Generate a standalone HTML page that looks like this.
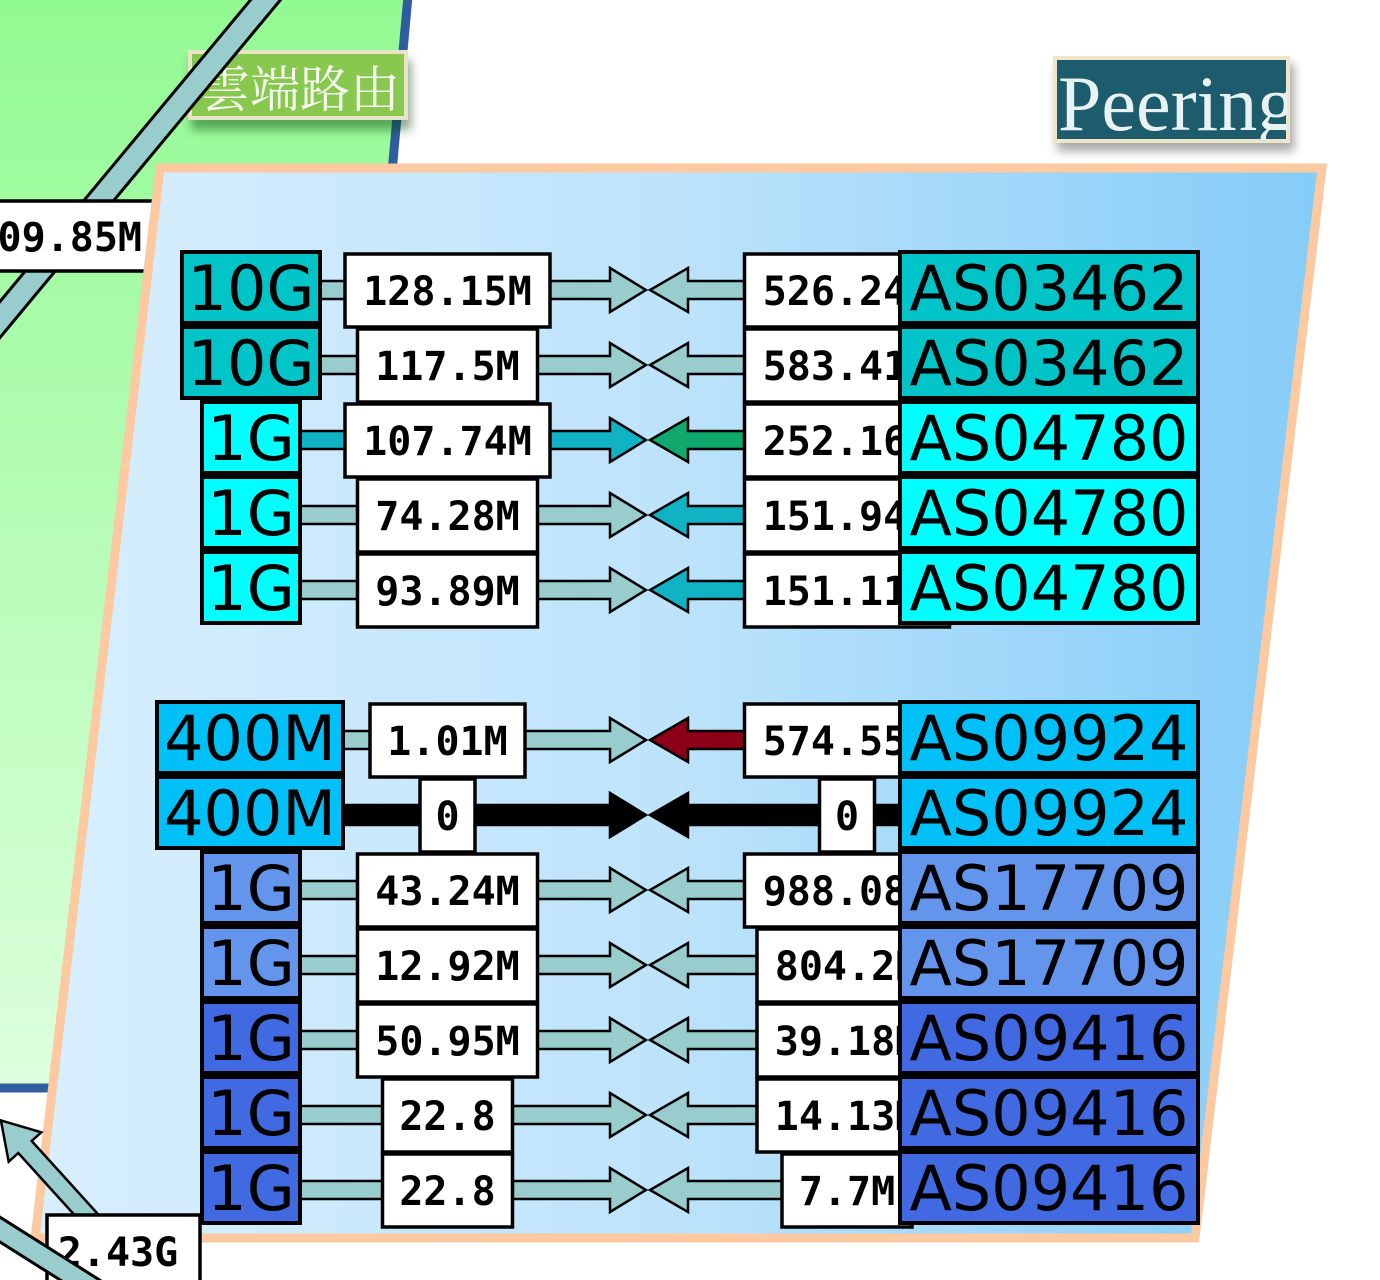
<!DOCTYPE html>
<html>
<head>
<meta charset="utf-8">
<style>
  html,body{margin:0;padding:0;background:#ffffff;}
  body{width:1380px;height:1280px;overflow:hidden;}
  svg{display:block;}
  .lbl{font-family:"DejaVu Sans Mono","Liberation Mono",monospace;font-weight:bold;font-size:40px;fill:#000;}
  .nd{font-family:"DejaVu Sans","Liberation Sans",sans-serif;font-size:62px;fill:#000;}
</style>
</head>
<body>
<svg width="1380" height="1280" viewBox="0 0 1380 1280" xmlns="http://www.w3.org/2000/svg">
  <defs>
    <linearGradient id="gGreen" x1="0" y1="0" x2="0" y2="1">
      <stop offset="0" stop-color="#92fa92"/>
      <stop offset="1" stop-color="#ddffdd"/>
    </linearGradient>
    <linearGradient id="gPanel" x1="0" y1="0" x2="1" y2="0">
      <stop offset="0" stop-color="#d8effd"/>
      <stop offset="0.5" stop-color="#bde3fb"/>
      <stop offset="1" stop-color="#84ccf8"/>
    </linearGradient>
    <filter id="shGrey" x="-20%" y="-30%" width="150%" height="180%">
      <feDropShadow dx="4" dy="8" stdDeviation="5" flood-color="#000" flood-opacity="0.35"/>
    </filter>
    <filter id="shGreen" x="-20%" y="-30%" width="150%" height="180%">
      <feDropShadow dx="3" dy="10" stdDeviation="5" flood-color="#004000" flood-opacity="0.45"/>
    </filter>
    <clipPath id="cpPeer"><rect x="1056" y="59" width="231" height="81"/></clipPath>
    <clipPath id="cpCloud"><rect x="190" y="52" width="216" height="66"/></clipPath>
  </defs>

  <!-- green area -->
  <polygon points="0,0 407,0 300,1088 0,1088" fill="url(#gGreen)"/>
  <line x1="408" y1="-4" x2="392" y2="172" stroke="#2e5c9e" stroke-width="9"/>
  <line x1="0" y1="1088" x2="70" y2="1088" stroke="#2f5fa0" stroke-width="9"/>

  <!-- cloud routing label -->
  <g filter="url(#shGreen)">
    <rect x="190" y="52" width="216" height="66" fill="#88c850" stroke="#e8e4c6" stroke-width="4"/>
  </g>
  <text x="200" y="107" clip-path="url(#cpCloud)" font-family="'Noto Serif CJK SC','Noto Sans CJK SC',serif" font-size="50" fill="#f6faf0">雲端路由</text>

  <!-- diagonal link top-left -->
  <line x1="292" y1="-32" x2="-32" y2="358" stroke="#000" stroke-width="26"/>
  <line x1="292" y1="-32" x2="-32" y2="358" stroke="#99cccc" stroke-width="20"/>

  <!-- 09.85M label -->
  <rect x="-40" y="201" width="199" height="70" fill="#fff" stroke="#000" stroke-width="3.5"/>
  <text class="lbl" x="142" y="251" text-anchor="end">09.85M</text>

  <!-- Peering label -->
  <g filter="url(#shGrey)">
    <rect x="1055" y="58" width="233" height="83" fill="#1e5b6c" stroke="#efe6c8" stroke-width="4"/>
  </g>
  <text x="1058" y="130" clip-path="url(#cpPeer)" font-family="'Liberation Serif',serif" font-size="78" fill="#e8f2f2">Peering</text>

  <!-- panel -->
  <polygon points="160,168 1322,168 1195,1238 35,1238" fill="url(#gPanel)" stroke="#fcc9a0" stroke-width="9" stroke-linejoin="miter"/>

  <!-- bottom-left arrow pointing up-left -->
  <polygon points="118.7,1237 31.7,1141 41.3,1132.3 0.9,1120.4 8.7,1161.7 18.3,1153 105.3,1249" fill="#99cccc" stroke="#000" stroke-width="2.5"/>

  <!-- 2.43G label -->
  <rect x="47" y="1215" width="153" height="85" fill="#fff" stroke="#000" stroke-width="3.5"/>
  <text class="lbl" x="118" y="1266" text-anchor="middle">2.43G</text>

  <!-- bottom-left band -->
  <line x1="-20" y1="1217" x2="110" y2="1299" stroke="#000" stroke-width="24"/>
  <line x1="-20" y1="1217" x2="110" y2="1299" stroke="#99cccc" stroke-width="18"/>

  <!-- ================= LINKS ================= -->
  <g stroke="#000" stroke-width="2.5" stroke-linejoin="miter">
    <g transform="translate(0,290)">
      <polygon points="318,-9 610,-9 610,-22 646,0 610,22 610,9 318,9" fill="#99cccc"/>
      <polygon points="902,-9 688,-9 688,-22 650,0 688,22 688,9 902,9" fill="#99cccc"/>
    </g>
    <g transform="translate(0,365)">
      <polygon points="318,-9 610,-9 610,-22 646,0 610,22 610,9 318,9" fill="#99cccc"/>
      <polygon points="902,-9 688,-9 688,-22 650,0 688,22 688,9 902,9" fill="#99cccc"/>
    </g>
    <g transform="translate(0,440)">
      <polygon points="298,-9 610,-9 610,-22 646,0 610,22 610,9 298,9" fill="#10b2c4"/>
      <polygon points="902,-9 688,-9 688,-22 650,0 688,22 688,9 902,9" fill="#10a86c"/>
    </g>
    <g transform="translate(0,515)">
      <polygon points="298,-9 610,-9 610,-22 646,0 610,22 610,9 298,9" fill="#99cccc"/>
      <polygon points="902,-9 688,-9 688,-22 650,0 688,22 688,9 902,9" fill="#10b2c4"/>
    </g>
    <g transform="translate(0,590)">
      <polygon points="298,-9 610,-9 610,-22 646,0 610,22 610,9 298,9" fill="#99cccc"/>
      <polygon points="902,-9 688,-9 688,-22 650,0 688,22 688,9 902,9" fill="#10b2c4"/>
    </g>
    <g transform="translate(0,740)">
      <polygon points="341,-9 610,-9 610,-22 646,0 610,22 610,9 341,9" fill="#99cccc"/>
      <polygon points="902,-9 688,-9 688,-22 650,0 688,22 688,9 902,9" fill="#8c0018"/>
    </g>
    <g transform="translate(0,815)">
      <polygon points="341,-10 610,-10 610,-22 646,0 610,22 610,10 341,10" fill="#000"/>
      <polygon points="902,-10 688,-10 688,-22 650,0 688,22 688,10 902,10" fill="#000"/>
    </g>
    <g transform="translate(0,890)">
      <polygon points="298,-9 610,-9 610,-22 646,0 610,22 610,9 298,9" fill="#99cccc"/>
      <polygon points="902,-9 688,-9 688,-22 650,0 688,22 688,9 902,9" fill="#99cccc"/>
    </g>
    <g transform="translate(0,965)">
      <polygon points="298,-9 610,-9 610,-22 646,0 610,22 610,9 298,9" fill="#99cccc"/>
      <polygon points="902,-9 688,-9 688,-22 650,0 688,22 688,9 902,9" fill="#99cccc"/>
    </g>
    <g transform="translate(0,1040)">
      <polygon points="298,-9 610,-9 610,-22 646,0 610,22 610,9 298,9" fill="#99cccc"/>
      <polygon points="902,-9 688,-9 688,-22 650,0 688,22 688,9 902,9" fill="#99cccc"/>
    </g>
    <g transform="translate(0,1115)">
      <polygon points="298,-9 610,-9 610,-22 646,0 610,22 610,9 298,9" fill="#99cccc"/>
      <polygon points="902,-9 688,-9 688,-22 650,0 688,22 688,9 902,9" fill="#99cccc"/>
    </g>
    <g transform="translate(0,1190)">
      <polygon points="298,-9 610,-9 610,-22 646,0 610,22 610,9 298,9" fill="#99cccc"/>
      <polygon points="902,-9 688,-9 688,-22 650,0 688,22 688,9 902,9" fill="#99cccc"/>
    </g>
  </g>

  <!-- ================= LABELS ================= -->
  <g>
    <!-- row 1 -->
    <g transform="translate(0,290)">
      <rect x="345" y="-36" width="205" height="73" fill="#fff" stroke="#000" stroke-width="3.5"/>
      <text class="lbl" x="447.5" y="15" text-anchor="middle">128.15M</text>
      <rect x="744.5" y="-36" width="205" height="73" fill="#fff" stroke="#000" stroke-width="3.5"/>
      <text class="lbl" x="847" y="15" text-anchor="middle">526.24M</text>
    </g>
    <g transform="translate(0,365)">
      <rect x="357.5" y="-36" width="180" height="73" fill="#fff" stroke="#000" stroke-width="3.5"/>
      <text class="lbl" x="447.5" y="15" text-anchor="middle">117.5M</text>
      <rect x="744.5" y="-36" width="205" height="73" fill="#fff" stroke="#000" stroke-width="3.5"/>
      <text class="lbl" x="847" y="15" text-anchor="middle">583.41M</text>
    </g>
    <g transform="translate(0,440)">
      <rect x="345" y="-36" width="205" height="73" fill="#fff" stroke="#000" stroke-width="3.5"/>
      <text class="lbl" x="447.5" y="15" text-anchor="middle">107.74M</text>
      <rect x="744.5" y="-36" width="205" height="73" fill="#fff" stroke="#000" stroke-width="3.5"/>
      <text class="lbl" x="847" y="15" text-anchor="middle">252.16M</text>
    </g>
    <g transform="translate(0,515)">
      <rect x="357.5" y="-36" width="180" height="73" fill="#fff" stroke="#000" stroke-width="3.5"/>
      <text class="lbl" x="447.5" y="15" text-anchor="middle">74.28M</text>
      <rect x="744.5" y="-36" width="205" height="73" fill="#fff" stroke="#000" stroke-width="3.5"/>
      <text class="lbl" x="847" y="15" text-anchor="middle">151.94M</text>
    </g>
    <g transform="translate(0,590)">
      <rect x="357.5" y="-36" width="180" height="73" fill="#fff" stroke="#000" stroke-width="3.5"/>
      <text class="lbl" x="447.5" y="15" text-anchor="middle">93.89M</text>
      <rect x="744.5" y="-36" width="205" height="73" fill="#fff" stroke="#000" stroke-width="3.5"/>
      <text class="lbl" x="847" y="15" text-anchor="middle">151.11M</text>
    </g>
    <!-- bottom group -->
    <g transform="translate(0,740)">
      <rect x="370" y="-36" width="155" height="73" fill="#fff" stroke="#000" stroke-width="3.5"/>
      <text class="lbl" x="447.5" y="15" text-anchor="middle">1.01M</text>
      <rect x="744.5" y="-36" width="205" height="73" fill="#fff" stroke="#000" stroke-width="3.5"/>
      <text class="lbl" x="847" y="15" text-anchor="middle">574.55M</text>
    </g>
    <g transform="translate(0,815)">
      <rect x="420" y="-36" width="55" height="73" fill="#fff" stroke="#000" stroke-width="3.5"/>
      <text class="lbl" x="447.5" y="15" text-anchor="middle">0</text>
      <rect x="819.5" y="-36" width="55" height="73" fill="#fff" stroke="#000" stroke-width="3.5"/>
      <text class="lbl" x="847" y="15" text-anchor="middle">0</text>
    </g>
    <g transform="translate(0,890)">
      <rect x="357.5" y="-36" width="180" height="73" fill="#fff" stroke="#000" stroke-width="3.5"/>
      <text class="lbl" x="447.5" y="15" text-anchor="middle">43.24M</text>
      <rect x="744.5" y="-36" width="205" height="73" fill="#fff" stroke="#000" stroke-width="3.5"/>
      <text class="lbl" x="847" y="15" text-anchor="middle">988.08K</text>
    </g>
    <g transform="translate(0,965)">
      <rect x="357.5" y="-36" width="180" height="73" fill="#fff" stroke="#000" stroke-width="3.5"/>
      <text class="lbl" x="447.5" y="15" text-anchor="middle">12.92M</text>
      <rect x="757" y="-36" width="180" height="73" fill="#fff" stroke="#000" stroke-width="3.5"/>
      <text class="lbl" x="847" y="15" text-anchor="middle">804.2K</text>
    </g>
    <g transform="translate(0,1040)">
      <rect x="357.5" y="-36" width="180" height="73" fill="#fff" stroke="#000" stroke-width="3.5"/>
      <text class="lbl" x="447.5" y="15" text-anchor="middle">50.95M</text>
      <rect x="757" y="-36" width="180" height="73" fill="#fff" stroke="#000" stroke-width="3.5"/>
      <text class="lbl" x="847" y="15" text-anchor="middle">39.18M</text>
    </g>
    <g transform="translate(0,1115)">
      <rect x="382.5" y="-36" width="130" height="73" fill="#fff" stroke="#000" stroke-width="3.5"/>
      <text class="lbl" x="447.5" y="15" text-anchor="middle">22.8</text>
      <rect x="757" y="-36" width="180" height="73" fill="#fff" stroke="#000" stroke-width="3.5"/>
      <text class="lbl" x="847" y="15" text-anchor="middle">14.13M</text>
    </g>
    <g transform="translate(0,1190)">
      <rect x="382.5" y="-36" width="130" height="73" fill="#fff" stroke="#000" stroke-width="3.5"/>
      <text class="lbl" x="447.5" y="15" text-anchor="middle">22.8</text>
      <rect x="782" y="-36" width="130" height="73" fill="#fff" stroke="#000" stroke-width="3.5"/>
      <text class="lbl" x="847" y="15" text-anchor="middle">7.7M</text>
    </g>
  </g>

  <!-- ================= NODES ================= -->
  <g stroke-width="4" stroke="#000">
    <g transform="translate(0,290)">
      <rect x="182" y="-38" width="138" height="71" fill="#00c4c8"/>
      <rect x="900" y="-38" width="298" height="71" fill="#00c4c8"/>
    </g>
    <g transform="translate(0,365)">
      <rect x="182" y="-38" width="138" height="71" fill="#00c4c8"/>
      <rect x="900" y="-38" width="298" height="71" fill="#00c4c8"/>
    </g>
    <g transform="translate(0,440)">
      <rect x="202" y="-38" width="98" height="71" fill="#00ffff"/>
      <rect x="900" y="-38" width="298" height="71" fill="#00ffff"/>
    </g>
    <g transform="translate(0,515)">
      <rect x="202" y="-38" width="98" height="71" fill="#00ffff"/>
      <rect x="900" y="-38" width="298" height="71" fill="#00ffff"/>
    </g>
    <g transform="translate(0,590)">
      <rect x="202" y="-38" width="98" height="71" fill="#00ffff"/>
      <rect x="900" y="-38" width="298" height="71" fill="#00ffff"/>
    </g>
    <g transform="translate(0,740)">
      <rect x="157" y="-38" width="186" height="71" fill="#00c0f8"/>
      <rect x="900" y="-38" width="298" height="71" fill="#00c0f8"/>
    </g>
    <g transform="translate(0,815)">
      <rect x="157" y="-38" width="186" height="71" fill="#00c0f8"/>
      <rect x="900" y="-38" width="298" height="71" fill="#00c0f8"/>
    </g>
    <g transform="translate(0,890)">
      <rect x="202" y="-38" width="98" height="71" fill="#6495ed"/>
      <rect x="900" y="-38" width="298" height="71" fill="#6495ed"/>
    </g>
    <g transform="translate(0,965)">
      <rect x="202" y="-38" width="98" height="71" fill="#6495ed"/>
      <rect x="900" y="-38" width="298" height="71" fill="#6495ed"/>
    </g>
    <g transform="translate(0,1040)">
      <rect x="202" y="-38" width="98" height="71" fill="#4169e1"/>
      <rect x="900" y="-38" width="298" height="71" fill="#4169e1"/>
    </g>
    <g transform="translate(0,1115)">
      <rect x="202" y="-38" width="98" height="71" fill="#4169e1"/>
      <rect x="900" y="-38" width="298" height="71" fill="#4169e1"/>
    </g>
    <g transform="translate(0,1190)">
      <rect x="202" y="-38" width="98" height="71" fill="#4169e1"/>
      <rect x="900" y="-38" width="298" height="71" fill="#4169e1"/>
    </g>
  </g>

  <!-- node texts -->
  <g class="nd" text-anchor="middle">
    <text class="nd" x="251" y="310">10G</text>
    <text class="nd" x="1049" y="310">AS03462</text>
    <text class="nd" x="251" y="385">10G</text>
    <text class="nd" x="1049" y="385">AS03462</text>
    <text class="nd" x="251" y="460">1G</text>
    <text class="nd" x="1049" y="460">AS04780</text>
    <text class="nd" x="251" y="535">1G</text>
    <text class="nd" x="1049" y="535">AS04780</text>
    <text class="nd" x="251" y="610">1G</text>
    <text class="nd" x="1049" y="610">AS04780</text>
    <text class="nd" x="250" y="760">400M</text>
    <text class="nd" x="1049" y="760">AS09924</text>
    <text class="nd" x="250" y="835">400M</text>
    <text class="nd" x="1049" y="835">AS09924</text>
    <text class="nd" x="251" y="910">1G</text>
    <text class="nd" x="1049" y="910">AS17709</text>
    <text class="nd" x="251" y="985">1G</text>
    <text class="nd" x="1049" y="985">AS17709</text>
    <text class="nd" x="251" y="1060">1G</text>
    <text class="nd" x="1049" y="1060">AS09416</text>
    <text class="nd" x="251" y="1135">1G</text>
    <text class="nd" x="1049" y="1135">AS09416</text>
    <text class="nd" x="251" y="1210">1G</text>
    <text class="nd" x="1049" y="1210">AS09416</text>
  </g>
</svg>
</body>
</html>
